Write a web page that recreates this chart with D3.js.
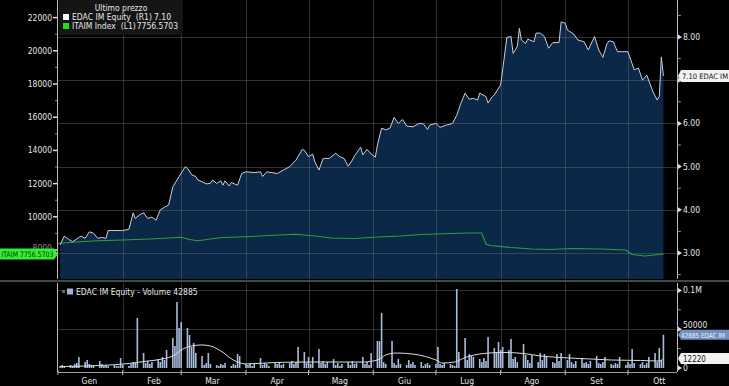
<!DOCTYPE html>
<html>
<head>
<meta charset="utf-8">
<script src="https://cdn.jsdelivr.net/npm/d3@7"></script>
<style>
  body { margin: 0; background: #000; }
  svg { display: block; }
  text { font-family: 'DejaVu Sans Condensed', 'Liberation Sans Narrow', 'DejaVu Sans', sans-serif; white-space: pre; }
</style>
</head>
<body>
<div id="chart"></div>
<script>
// EDAC IM price (right axis)
var priceDates = ['01-02','01-04','01-06','01-08','01-11','01-12','01-14','01-16','01-18','01-20','01-22','01-24','01-25','01-28',
  '02-01','02-04','02-06','02-07','02-09','02-11','02-13','02-15','02-17','02-19','02-21','02-23','02-25','02-28',
  '03-03','03-04','03-06','03-08','03-09','03-11','03-13','03-15','03-16','03-18','03-20','03-21','03-22','03-24','03-25','03-28','03-30',
  '04-01','04-05','04-08','04-09','04-11','04-16','04-19','04-22','04-25','04-28','04-29',
  '05-01','05-03','05-04','05-06','05-08','05-11','05-14','05-16','05-18','05-20','05-22','05-23','05-26','05-27','05-29','05-31',
  '06-02','06-03','06-05','06-07','06-09','06-11','06-13','06-15','06-17','06-20','06-23','06-25','06-27','06-28',
  '07-01','07-03','07-06','07-09','07-11','07-13','07-15','07-17','07-19','07-21','07-22','07-25','07-26','07-28','07-29',
  '08-01','08-02','08-04','08-06','08-07','08-09','08-10','08-11','08-13','08-14','08-17','08-18','08-20','08-22','08-24','08-26','08-29','08-30',
  '09-01','09-02','09-05','09-07','09-10','09-12','09-15','09-17','09-19','09-21','09-22','09-24','09-26',
  '10-01','10-04','10-06','10-08','10-10','10-13','10-15','10-16','10-17','10-18']
var priceValues = [3.19,3.39,3.32,3.26,3.36,3.39,3.34,3.49,3.46,3.34,3.36,3.34,3.52,3.52,
  3.52,3.55,3.93,3.80,3.88,3.93,3.80,3.83,3.76,4.00,4.06,4.11,4.53,4.77,
  5.00,4.96,4.81,4.77,4.69,4.65,4.60,4.61,4.69,4.61,4.67,4.57,4.67,4.55,4.63,4.57,4.84,
  4.88,4.86,4.88,4.77,4.88,4.84,4.92,5.00,5.15,5.40,5.38,
  5.23,5.29,5.11,4.92,5.19,5.19,5.31,5.23,5.19,5.01,5.15,5.25,5.45,5.27,5.40,5.29,
  5.22,5.50,5.89,5.85,5.89,6.14,6.00,6.09,5.94,5.92,6.00,5.99,5.86,5.96,
  6.00,5.91,5.96,6.00,6.19,6.47,6.70,6.56,6.58,6.54,6.70,6.62,6.47,6.62,6.66,
  6.89,7.24,7.99,8.01,7.62,7.78,8.20,7.93,7.85,7.95,7.89,8.09,8.09,8.01,7.74,7.87,7.87,8.35,
  8.32,8.16,8.07,7.93,7.89,7.70,8.01,7.70,7.53,7.85,7.91,7.89,7.66,
  7.66,7.24,7.28,7.00,7.12,6.73,6.54,6.62,7.54,7.10]

// ITAIM index (left axis)
var itaimDates = ['01-01','01-09','01-20','02-01','02-14','02-23','03-01','03-05','03-09','03-15','03-21','04-01','04-12','04-25',
  '05-04','05-12','05-23','06-01','06-14','06-24','07-08','07-17','07-23','07-25','07-27','08-06','08-16','08-25','09-04','09-18',
  '09-30','10-03','10-09','10-18']
var itaimValues = [8392,8482,8560,8600,8663,8723,8765,8633,8560,8663,8753,8801,8873,8946,
  8843,8723,8693,8765,8843,8934,8994,9024,9024,8361,8271,8151,8060,8030,8090,8060,
  8000,7729,7639,7757]

// daily volume, one per trading day from 2 Jan to 18 Oct
var volumes = [
  2600,3900,2600,3900,2600,5200,6400,14200,7700,10300,5200,3900,2600,9000,5200,2600,3900,2600,3900,2600,2600,12900,
  3900,2600,5200,7700,6400,64500,19300,6400,9000,5200,7700,11600,7700,14200,10300,23200,38700,28400,85100,51600,
  59300,51600,42500,27100,32200,19300,15500,3900,6400,19300,5200,3900,2600,5200,3900,6400,2600,5200,3900,18000,15500,
  5200,3900,6400,2600,5200,12900,3900,6400,5200,2600,6400,5200,7700,3900,5200,6400,9000,5200,7700,27100,20600,6400,
  14200,5200,14200,24500,6400,9000,5200,7700,11600,3900,6400,2600,5200,7700,3900,9000,5200,6400,14200,5200,7700,3900,19300,
  34800,34800,70900,7700,5200,34800,6400,3900,11600,5200,3900,10300,5200,7700,3900,7700,2600,5200,6400,3900,
  5200,27100,5200,3900,6400,5200,3900,2600,101800,20600,38700,10300,18000,15500,14200,11600,7700,12900,9000,40000,25800,20600,33500,
  23200,27100,23200,37400,11600,14200,7700,30900,16800,10300,6400,16800,7700,19300,10300,18000,14200,7700,6400,18000,9000,19300,
  10300,18000,7700,5200,9000,12900,6400,7700,5200,9000,15500,6400,5200,7700,14200,5200,3900,6400,5200,14200,3900,
  7700,5200,24500,6400,5200,7700,3900,6400,14200,19300,7700,25800,10300,42885]

// volume moving average
var maDates = ['01-02','01-21','02-04','02-13','02-20','02-26','03-01','03-06','03-11','03-15','03-20','03-26','04-01','04-15',
  '05-02','05-27','06-03','06-07','06-12','06-20','06-26','07-01','07-04','07-10','07-15','07-24','08-02','08-12','08-20','08-30',
  '09-13','09-23','10-07','10-16','10-18']
var maValues = [1900,3200,5800,9000,11600,16800,23200,28400,29700,28400,21900,10300,5200,7100,
  7700,7700,10300,16800,19300,18000,14800,10300,6400,7700,13500,18700,20000,18700,15500,13500,
  11600,10300,9700,9000,12220]

var monthNames = ['Gen','Feb','Mar','Apr','Mag','Giu','Lug','Ago','Set','Ott']
var leftTicks = [8000,10000,12000,14000,16000,18000,20000,22000]
var rightTicks = [3,4,5,6,7,8]
var volTicks = [0,50000,100000]

var W = 729, H = 386
var left = 58, right = 677
var top1 = 0, bot1 = 279
var top2 = 283, bot2 = 372

var parse = d => new Date('2019-' + d + 'T00:00:00Z')

var svg = d3.select('#chart').append('svg').attr('width', W).attr('height', H)
svg.append('rect').attr('width', W).attr('height', H).attr('fill', '#000')

var x = d3.scaleUtc()
  .domain([parse('01-01'), new Date(Date.UTC(2019, 9, 24, 12))])
  .range([left, right])
var yR = d3.scaleLinear().domain([3, 8]).range([253, 37])
var yL = d3.scaleLinear().domain([8000, 22000]).range([250, 17.6])
var yV = d3.scaleLinear().domain([0, 100000]).range([368, 290.4])

var price = priceDates.map((d, i) => ({ date: parse(d), v: priceValues[i] }))
var itaim = itaimDates.map((d, i) => ({ date: parse(d), v: itaimValues[i] }))
var ma = maDates.map((d, i) => ({ date: parse(d), v: maValues[i] }))
var tradingDays = d3.utcDay
  .range(parse('01-02'), parse('10-19'))
  .filter(d => d.getUTCDay() !== 0 && d.getUTCDay() !== 6)
var vol = volumes.map((v, i) => ({ date: tradingDays[i], v: v }))

var monthStarts = d3.utcMonth.range(parse('01-01'), parse('10-02'))

// ---- top panel ----
svg.append('path')
  .datum(price)
  .attr('fill', '#0c2848')
  .attr('d', d3.area().x(d => x(d.date)).y0(bot1).y1(d => yR(d.v)))

var grid = svg.append('g').attr('stroke', '#6a6a6a').attr('stroke-opacity', 0.45).attr('stroke-width', 1)
grid.selectAll('.hg').data(rightTicks).enter().append('line')
  .attr('x1', left).attr('x2', right)
  .attr('y1', d => Math.round(yR(d)) + 0.5).attr('y2', d => Math.round(yR(d)) + 0.5)
grid.selectAll('.vg').data(monthStarts.slice(1)).enter().append('line')
  .attr('x1', d => Math.round(x(d)) + 0.5).attr('x2', d => Math.round(x(d)) + 0.5)
  .attr('y1', top1).attr('y2', bot1)

svg.append('path')
  .datum(itaim)
  .attr('fill', 'none')
  .attr('stroke', '#2f9e3c')
  .attr('stroke-width', 1.1)
  .attr('d', d3.line().x(d => x(d.date)).y(d => yL(d.v)))

svg.append('path')
  .datum(price)
  .attr('fill', 'none')
  .attr('stroke', '#c6cfdc')
  .attr('stroke-width', 1)
  .attr('d', d3.line().x(d => x(d.date)).y(d => yR(d.v)))

// left axis
svg.append('line').attr('x1', left - 0.5).attr('x2', left - 0.5).attr('y1', top1).attr('y2', bot1)
  .attr('stroke', '#bbb')
svg.selectAll('.lt').data(leftTicks).enter().append('line')
  .attr('x1', left - 5).attr('x2', left - 1)
  .attr('y1', d => yL(d)).attr('y2', d => yL(d))
  .attr('stroke', '#ddd').attr('stroke-width', 1.5)
svg.selectAll('.lm').data(d3.range(9000, 23000, 2000)).enter().append('line')
  .attr('x1', left - 3).attr('x2', left - 1)
  .attr('y1', d => yL(d)).attr('y2', d => yL(d))
  .attr('stroke', '#888')
// 8000 sits behind the green tag, only its top peeks out
svg.selectAll('.ll').data(leftTicks).enter().append('text')
  .text(d => d)
  .attr('x', left - 6).attr('y', d => d === 8000 ? yL(d) + 1 : yL(d) + 3)
  .attr('text-anchor', 'end')
  .attr('font-size', 8.5)
  .attr('fill', d => d === 8000 ? '#888' : '#e6e6e6')

// right axis
svg.append('line').attr('x1', right + 0.5).attr('x2', right + 0.5).attr('y1', top1).attr('y2', bot1)
  .attr('stroke', '#bbb')
svg.selectAll('.rt').data(rightTicks).enter().append('path')
  .attr('d', d => `M${right + 1},${yR(d) - 2.5}L${right + 5},${yR(d)}L${right + 1},${yR(d) + 2.5}Z`)
  .attr('fill', '#ddd')
svg.selectAll('.rm').data([2.5, 3.5, 4.5, 5.5, 6.5, 7.5, 8.5]).enter().append('line')
  .attr('x1', right + 1).attr('x2', right + 4)
  .attr('y1', d => yR(d)).attr('y2', d => yR(d))
  .attr('stroke', '#888')
svg.selectAll('.rl').data(rightTicks.filter(d => d !== 7)).enter().append('text')
  .text(d => d.toFixed(2))
  .attr('x', right + 6).attr('y', d => yR(d) + 3)
  .attr('font-size', 8.5)
  .attr('fill', '#e6e6e6')

// legend
var leg = svg.append('g')
leg.append('rect').attr('x', 59).attr('y', 0).attr('width', 124).attr('height', 35).attr('fill', '#151515')
leg.append('text').text('Ultimo prezzo').attr('x', 121).attr('y', 11)
  .attr('text-anchor', 'middle').attr('font-size', 8.5).attr('fill', '#e6e6e6')
leg.append('rect').attr('x', 63).attr('y', 14).attr('width', 6).attr('height', 6).attr('fill', '#fff')
leg.append('text').text('EDAC IM Equity  (R1)').attr('x', 72).attr('y', 20)
  .attr('font-size', 8.5).attr('fill', '#e6e6e6')
leg.append('text').text(priceValues[priceValues.length - 1].toFixed(2)).attr('x', 171).attr('y', 20)
  .attr('text-anchor', 'end').attr('font-size', 8.5).attr('fill', '#e6e6e6')
leg.append('rect').attr('x', 63).attr('y', 23).attr('width', 6).attr('height', 6).attr('fill', '#22dd22')
leg.append('text').text('ITAIM Index  (L1)').attr('x', 72).attr('y', 29)
  .attr('font-size', 8.5).attr('fill', '#e6e6e6')
leg.append('text').text('7756.5703').attr('x', 178).attr('y', 29)
  .attr('text-anchor', 'end').attr('font-size', 8.5).attr('fill', '#e6e6e6')

// last value tags
var gy = yL(7756.57)
svg.append('path')
  .attr('d', `M0,${gy - 5.5}L${left - 4},${gy - 5.5}L${left},${gy}L${left - 4},${gy + 5.5}L0,${gy + 5.5}Z`)
  .attr('fill', '#33ee33')
svg.append('text').text('ITAIM 7756.5703').attr('x', 1.5).attr('y', gy + 3)
  .attr('font-size', 7.5).attr('fill', '#0a3a0a')
  .attr('textLength', 52).attr('lengthAdjust', 'spacingAndGlyphs')

var py = yR(7.10)
svg.append('path')
  .attr('d', `M${right + 1},${py}L${right + 4},${py - 6}L${W},${py - 6}L${W},${py + 6}L${right + 4},${py + 6}Z`)
  .attr('fill', '#f2f2f2')
svg.append('text').text('7.10 EDAC IM').attr('x', right + 5).attr('y', py + 3)
  .attr('font-size', 7.5).attr('fill', '#111')
  .attr('textLength', 46).attr('lengthAdjust', 'spacingAndGlyphs')

// separator
svg.append('line').attr('x1', 0).attr('x2', W).attr('y1', 281).attr('y2', 281)
  .attr('stroke', '#8a8a8a').attr('stroke-width', 1.2)

// ---- volume panel ----
var grid2 = svg.append('g').attr('stroke', '#6a6a6a').attr('stroke-opacity', 0.45)
grid2.selectAll('.hg2').data([50000, 100000]).enter().append('line')
  .attr('x1', left).attr('x2', right)
  .attr('y1', d => Math.round(yV(d)) + 0.5).attr('y2', d => Math.round(yV(d)) + 0.5)
grid2.selectAll('.vg2').data(monthStarts.slice(1)).enter().append('line')
  .attr('x1', d => Math.round(x(d)) + 0.5).attr('x2', d => Math.round(x(d)) + 0.5)
  .attr('y1', top2).attr('y2', bot2)

svg.selectAll('.vbar').data(vol).enter().append('rect')
  .attr('x', d => x(d.date) - 0.8)
  .attr('width', 1.6)
  .attr('y', d => yV(d.v))
  .attr('height', d => yV(0) - yV(d.v))
  .attr('fill', '#a8bcdb')

svg.append('path')
  .datum(ma)
  .attr('fill', 'none')
  .attr('stroke', '#dcdcdc')
  .attr('stroke-width', 1)
  .attr('d', d3.line().curve(d3.curveMonotoneX).x(d => x(d.date)).y(d => yV(d.v)))

svg.append('line').attr('x1', left - 0.5).attr('x2', left - 0.5).attr('y1', top2).attr('y2', bot2).attr('stroke', '#bbb')
svg.append('line').attr('x1', right + 0.5).attr('x2', right + 0.5).attr('y1', top2).attr('y2', bot2).attr('stroke', '#bbb')
svg.append('line').attr('x1', left).attr('x2', right).attr('y1', bot2 + 0.5).attr('y2', bot2 + 0.5).attr('stroke', '#999')

svg.selectAll('.vt').data(volTicks).enter().append('path')
  .attr('d', d => `M${right + 1},${yV(d) - 2.5}L${right + 5},${yV(d)}L${right + 1},${yV(d) + 2.5}Z`)
  .attr('fill', '#ddd')
svg.selectAll('.vm').data([25000, 75000]).enter().append('line')
  .attr('x1', right + 1).attr('x2', right + 4)
  .attr('y1', d => yV(d)).attr('y2', d => yV(d))
  .attr('stroke', '#888')
svg.selectAll('.vl').data(volTicks).enter().append('text')
  .text(d => d === 100000 ? '0.1M' : d)
  .attr('x', right + 6).attr('y', d => d === 50000 ? yV(d) - 1 : yV(d) + 3)
  .attr('font-size', 8.5)
  .attr('fill', '#e6e6e6')

// volume tags
var vy = yV(42885)
svg.append('path')
  .attr('d', `M${right + 1},${vy}L${right + 4},${vy - 5}L${W},${vy - 5}L${W},${vy + 5}L${right + 4},${vy + 5}Z`)
  .attr('fill', '#7090bd')
svg.append('text').text('42885 EDAC IM').attr('x', right + 4).attr('y', vy + 3)
  .attr('font-size', 7).attr('fill', '#eef2f8')
  .attr('textLength', 44).attr('lengthAdjust', 'spacingAndGlyphs')
var my = yV(12220)
svg.append('path')
  .attr('d', `M${right + 1},${my}L${right + 4},${my - 5.5}L${W},${my - 5.5}L${W},${my + 5.5}L${right + 4},${my + 5.5}Z`)
  .attr('fill', '#f2f2f2')
svg.append('text').text('12220').attr('x', right + 6).attr('y', my + 3)
  .attr('font-size', 8).attr('fill', '#111')

// volume legend
svg.append('rect').attr('x', 62).attr('y', 290).attr('width', 3).attr('height', 3).attr('fill', '#666')
svg.append('rect').attr('x', 67).attr('y', 288.5).attr('width', 6).attr('height', 6).attr('fill', '#9fb6d8')
svg.append('text').text('EDAC IM Equity - Volume 42885').attr('x', 76).attr('y', 295)
  .attr('font-size', 8.5).attr('fill', '#e6e6e6')

// month axis
svg.selectAll('.mt').data(monthStarts).enter().append('line')
  .attr('x1', d => x(d)).attr('x2', d => x(d))
  .attr('y1', bot2 - 2).attr('y2', bot2 + 3)
  .attr('stroke', '#bbb')
svg.selectAll('.ml').data(monthStarts).enter().append('text')
  .text((d, i) => monthNames[i])
  .attr('x', d => x(d3.utcDay.offset(d, 15)))
  .attr('y', 384)
  .attr('text-anchor', 'middle')
  .attr('font-size', 8.5)
  .attr('fill', '#e6e6e6')
</script>
</body>
</html>
